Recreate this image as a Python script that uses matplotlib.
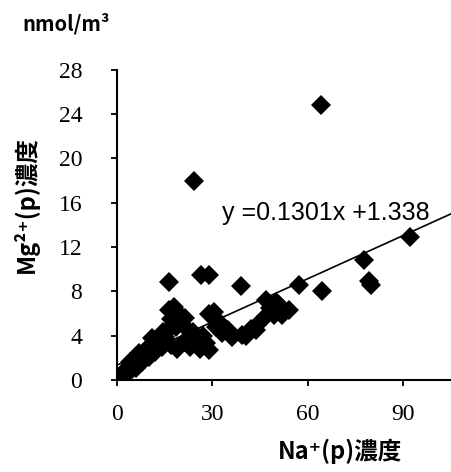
import numpy as np
import matplotlib
matplotlib.use('Agg')
import matplotlib.pyplot as plt

# Na+(p) vs Mg2+(p) concentrations, nmol/m3
na = [1.0, 1.5, 2.0, 2.5, 3.0, 3.2, 3.8, 4.0, 4.5, 5.0, 5.5, 6.0, 6.5, 7.0, 7.5,
      8.0, 8.5, 9.0, 9.5, 10.0, 10.5, 11.0, 11.5, 12.0, 12.5, 13.0, 13.5, 14.0, 14.5, 15.0,
      6.0, 8.0, 10.0, 12.0, 14.0, 4.0, 7.0, 11.0,
      16.5, 18.0, 19.5, 17.0, 20.0, 21.5, 18.5, 22.0, 16.0,
      17.0, 19.0, 21.0, 23.0, 24.8, 26.0, 28.0, 29.0, 27.0, 24.0,
      30.5, 29.0, 31.0, 33.0, 32.0,
      36.0, 39.3, 43.7, 35.0, 40.5, 44.0, 42.0,
      46.9, 48.0, 51.0, 52.0, 54.0, 49.4, 50.0, 47.0,
      16.5, 26.3, 29.0, 39.0, 57.3, 64.6, 77.8, 79.3, 79.8, 92.0, 24.2, 64.2]
mg = [0.3, 0.5, 0.4, 0.8, 0.6, 1.0, 1.2, 0.8, 1.4, 1.1, 1.7, 1.5, 1.9, 1.6, 2.2,
      2.0, 2.5, 2.2, 2.8, 2.6, 3.1, 2.8, 3.4, 3.1, 3.7, 3.3, 4.0, 3.6, 4.3, 3.9,
      1.1, 1.6, 2.1, 2.5, 3.0, 1.6, 2.4, 3.8,
      6.3, 6.6, 6.0, 5.5, 5.3, 5.6, 4.8, 4.6, 4.5,
      3.2, 2.8, 3.4, 3.0, 3.6, 2.8, 3.3, 2.7, 4.0, 4.3,
      6.1, 6.0, 4.8, 4.2, 5.2,
      3.9, 4.1, 4.5, 4.5, 4.0, 5.0, 4.6,
      7.2, 6.5, 6.8, 5.9, 6.3, 5.9, 7.0, 5.8,
      8.85, 9.5, 9.5, 8.45, 8.6, 8.0, 10.8, 8.9, 8.6, 12.9, 18.0, 24.8]

slope = 0.1301
intercept = 1.338

x_ticks = [0, 30, 60, 90]
y_ticks = [0, 4, 8, 12, 16, 20, 24, 28]

cjk = ['Noto Sans CJK JP', 'DejaVu Sans']

fig = plt.figure(figsize=(4.51, 4.72), dpi=100)
ax = fig.add_axes([0.2594, 0.195, 0.7406, 0.657])

ax.plot(na, mg, linestyle='none', marker='D', markersize=10.6,
        markeredgewidth=0, color='black', zorder=3)

fit_x = np.array([0, 105])
ax.plot(fit_x, slope * fit_x + intercept, color='black', linewidth=1.2, zorder=2)

ax.text(33.0, 14.45, 'y =%.4fx +%.3f' % (slope, intercept), fontsize=18,
        family='Liberation Sans', va='baseline', ha='left')

ax.set_xlim(0, 105)
ax.set_ylim(0, 28)
ax.set_xticks(x_ticks)
ax.set_yticks(y_ticks)
for s in ['top', 'right']:
    ax.spines[s].set_visible(False)
for s in ['left', 'bottom']:
    ax.spines[s].set_linewidth(1.5)
ax.tick_params(axis='both', direction='out', length=4, width=1.3,
               labelsize=17)
ax.tick_params(axis='y', pad=21)
ax.tick_params(axis='x', pad=13)
for lab in ax.get_xticklabels() + ax.get_yticklabels():
    lab.set_family('Liberation Serif')

fig.text(0.754, 0.0445, 'Na⁺(p)濃度', fontsize=17, family=cjk,
         weight='bold', ha='center', va='center')
fig.text(0.058, 0.566, 'Mg²⁺(p)濃度', fontsize=17, family=cjk,
         weight='bold', ha='center', va='center', rotation=90)
fig.text(0.05, 0.949, 'nmol/m³', fontsize=14.5, family=cjk,
         weight='bold', ha='left', va='center')

fig.savefig('out.png', dpi=100)
